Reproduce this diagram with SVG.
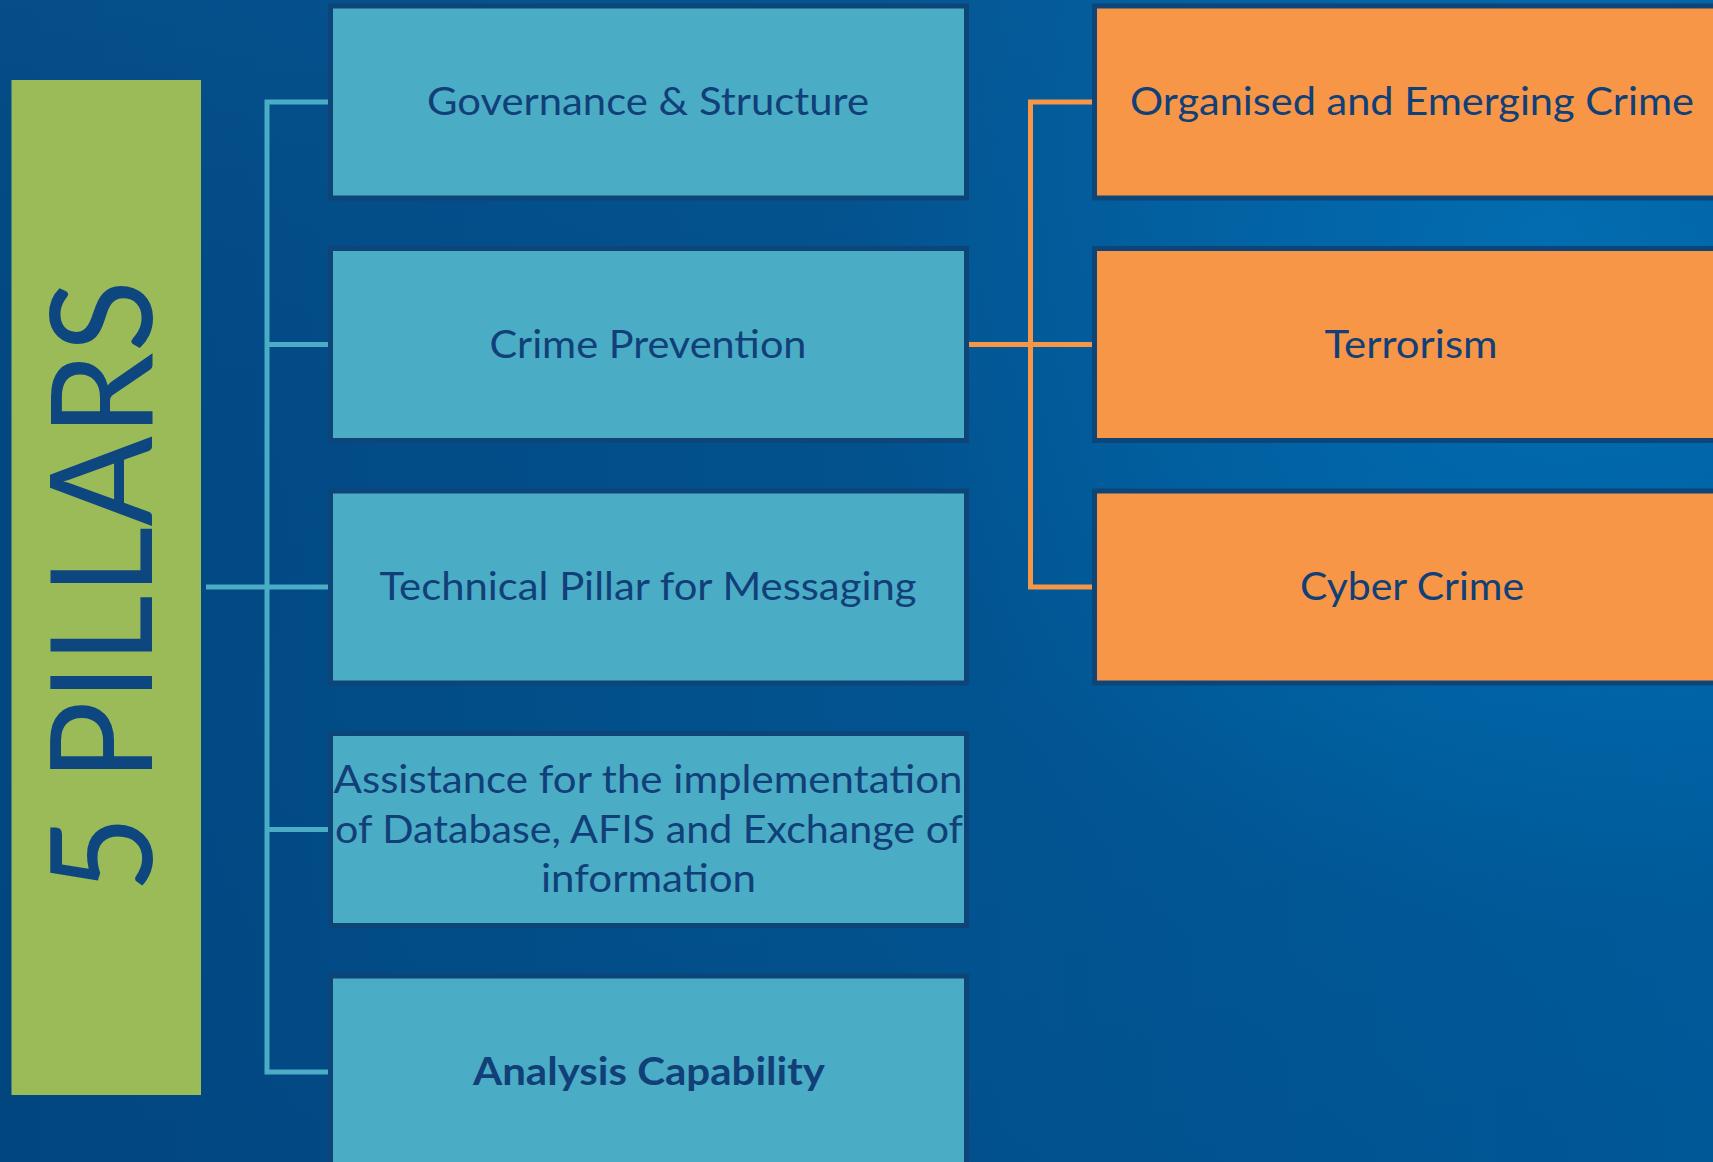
<svg xmlns="http://www.w3.org/2000/svg" width="1713" height="1162" viewBox="0 0 1713 1162">
  <defs>
    <linearGradient id="bg" x1="0" y1="0" x2="1" y2="0">
      <stop offset="0" stop-color="#024781"/>
      <stop offset="0.5" stop-color="#02538F"/>
      <stop offset="1" stop-color="#005C9C"/>
    </linearGradient>
    <radialGradient id="glow" cx="1550" cy="230" r="700" gradientUnits="userSpaceOnUse">
      <stop offset="0" stop-color="#0076BC" stop-opacity="0.95"/>
      <stop offset="1" stop-color="#0076BC" stop-opacity="0"/>
    </radialGradient>
    <linearGradient id="shade" x1="0" y1="0" x2="0" y2="1">
      <stop offset="0" stop-color="#0B5A98" stop-opacity="0.35"/>
      <stop offset="0.6" stop-color="#003E7A" stop-opacity="0"/>
      <stop offset="1" stop-color="#003E7A" stop-opacity="0.15"/>
    </linearGradient>
    <style>
      .blue { fill: #4BACC6; stroke: #0E4578; stroke-width: 5; }
      .orange { fill: #F79646; stroke: #0E4578; stroke-width: 5; }
      .lbl { font-family: Lato, "Open Sans", "Liberation Sans", sans-serif; font-size: 39px; fill: #113F78; text-anchor: middle; }
      .bold { font-weight: bold; }
      .cb { fill: none; stroke: #4BACC6; stroke-width: 5; }
      .co { fill: none; stroke: #F79646; stroke-width: 5; }
    </style>
  </defs>
  <rect width="1713" height="1162" fill="url(#bg)"/>
  <rect width="1713" height="1162" fill="url(#glow)"/>
  <rect width="1713" height="1162" fill="url(#shade)"/>

  <g id="pillars">
    <rect x="11.5" y="80" width="189.5" height="1015" fill="#9BBB59"/>
    <text transform="translate(152,586.5) rotate(-90)" font-family="Lato, 'Open Sans', 'Liberation Sans', sans-serif" font-size="142" fill="#0E4680" text-anchor="middle" textLength="613" lengthAdjust="spacingAndGlyphs">5 PILLARS</text>
  </g>

  <g id="connectors">
    <path class="cb" d="M330,102 H267 V1072 H330"/>
    <path class="cb" d="M267,344.5 H330"/>
    <path class="cb" d="M206,587 H330"/>
    <path class="cb" d="M267,829.5 H330"/>
    <path class="co" d="M1092,102 H1030.5 V587 H1092"/>
    <path class="co" d="M969,344.5 H1092"/>
  </g>

  <g id="governance">
    <rect class="blue" x="330.5" y="6" width="636" height="192"/>
    <text class="lbl" x="648" y="115" textLength="442" lengthAdjust="spacingAndGlyphs">Governance &amp; Structure</text>
  </g>
  <g id="crime-prevention">
    <rect class="blue" x="330.5" y="248.5" width="636" height="192"/>
    <text class="lbl" x="648" y="357.5" textLength="317" lengthAdjust="spacingAndGlyphs">Crime Prevention</text>
  </g>
  <g id="technical">
    <rect class="blue" x="330.5" y="491" width="636" height="192"/>
    <text class="lbl" x="648" y="600" textLength="537" lengthAdjust="spacingAndGlyphs">Technical Pillar for Messaging</text>
  </g>
  <g id="assistance">
    <rect class="blue" x="330.5" y="733.5" width="636" height="192"/>
    <text class="lbl" x="648" y="793" textLength="629" lengthAdjust="spacingAndGlyphs">Assistance for the implementation</text>
    <text class="lbl" x="649" y="843" textLength="628" lengthAdjust="spacingAndGlyphs">of Database, AFIS and Exchange of</text>
    <text class="lbl" x="648.5" y="892" textLength="215" lengthAdjust="spacingAndGlyphs">information</text>
  </g>
  <g id="analysis">
    <rect class="blue" x="330.5" y="976" width="636" height="192"/>
    <text class="lbl bold" x="649" y="1085" textLength="352" lengthAdjust="spacingAndGlyphs">Analysis Capability</text>
  </g>

  <g id="organised">
    <rect class="orange" x="1094.5" y="6" width="636" height="192"/>
    <text class="lbl" x="1412" y="115" textLength="564" lengthAdjust="spacingAndGlyphs">Organised and Emerging Crime</text>
  </g>
  <g id="terrorism">
    <rect class="orange" x="1094.5" y="248.5" width="636" height="192"/>
    <text class="lbl" x="1411" y="357.5" textLength="173" lengthAdjust="spacingAndGlyphs">Terrorism</text>
  </g>
  <g id="cyber">
    <rect class="orange" x="1094.5" y="491" width="636" height="192"/>
    <text class="lbl" x="1412" y="600" textLength="224" lengthAdjust="spacingAndGlyphs">Cyber Crime</text>
  </g>
</svg>
